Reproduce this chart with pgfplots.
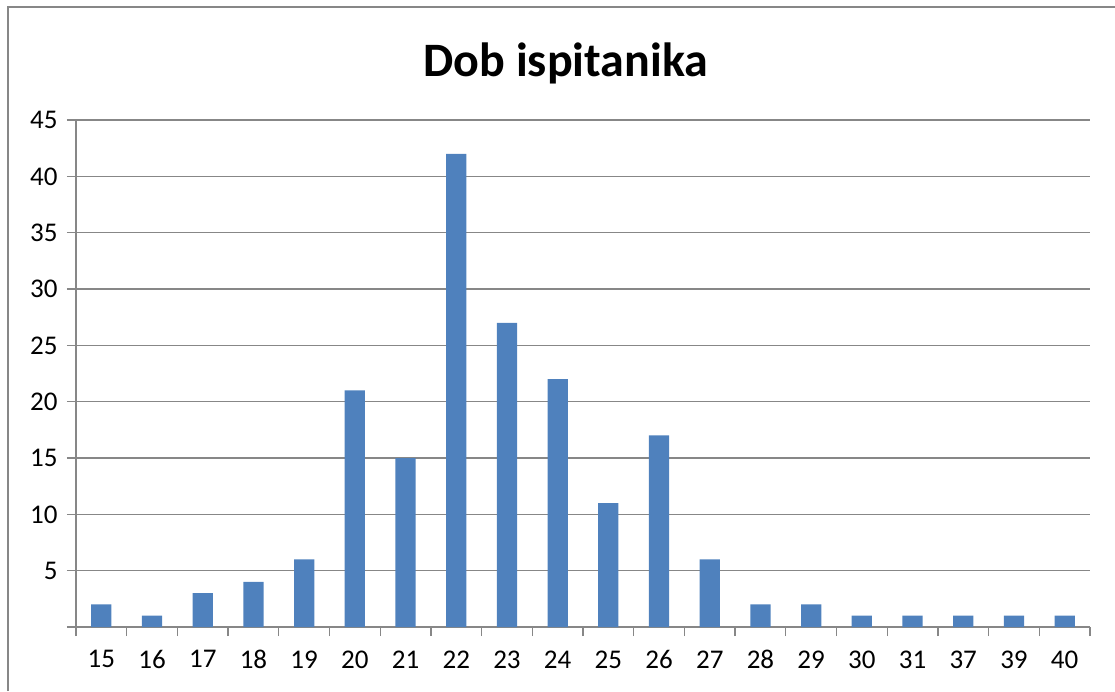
\documentclass[border=0pt]{standalone}
\usepackage{fontspec}
\setmainfont{Carlito}
\usepackage{pgfplots}
\pgfplotsset{compat=1.18}
\definecolor{barblue}{HTML}{4F81BD}
\definecolor{axgray}{HTML}{878787}
\begin{document}
\begin{tikzpicture}[x=1pt,y=1pt]
\useasboundingbox (0,0) rectangle (1115,691);
\draw[axgray,line width=2pt] (7.5,0) -- (7.5,683.5) -- (1115,683.5);
\begin{axis}[
  at={(76pt,64pt)}, anchor=south west,
  scale only axis, width=1014pt, height=507pt,
  xmin=-0.5, xmax=19.5, ymin=0, ymax=45,
  axis x line*=bottom, axis y line*=left,
  axis line style={axgray, line width=1.3pt},
  xtick={0,...,19},
  xticklabels={15,16,17,18,19,20,21,22,23,24,25,26,27,28,29,30,31,37,39,40},
  x tick label style={font=\fontsize{27}{29}\selectfont, yshift=-11pt},
  major x tick style={draw=none},
  minor xtick={-0.5,0.5,...,19.5},
  minor x tick style={axgray, line width=1.3pt},
  minor tick length=9pt,
  ytick={0,5,...,45},
  yticklabels={,5,10,15,20,25,30,35,40,45},
  y tick label style={font=\fontsize{27}{29}\selectfont, xshift=-6pt},
  major y tick style={axgray, line width=1.3pt},
  tick align=outside, major tick length=9pt,
  ymajorgrids, grid style={axgray, line width=1.3pt},
  title={\bfseries Dob ispitanika},
  title style={font=\fontsize{48}{52}\selectfont\bfseries, at={(0.483,1)}, yshift=26pt},
]
\addplot[ybar, bar width=0.4, fill=barblue, draw=none] coordinates {
(0,2) (1,1) (2,3) (3,4) (4,6) (5,21) (6,15) (7,42) (8,27) (9,22)
(10,11) (11,17) (12,6) (13,2) (14,2) (15,1) (16,1) (17,1) (18,1) (19,1)
};
\end{axis}
\end{tikzpicture}
\end{document}
